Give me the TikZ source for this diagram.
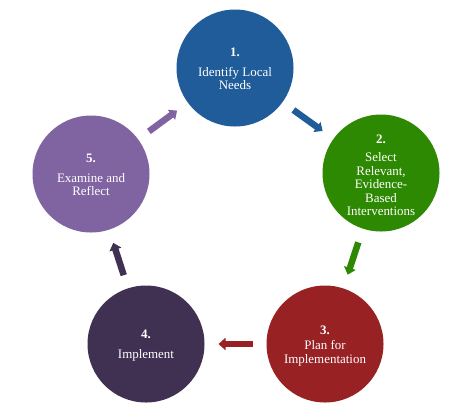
\documentclass[tikz,border=0pt]{standalone}
\usepackage{fontspec}
\setmainfont{Liberation Serif}
\usetikzlibrary{arrows.meta,calc}
\definecolor{cblue}{RGB}{31,92,153}
\definecolor{cgreen}{RGB}{46,137,2}
\definecolor{cred}{RGB}{152,33,35}
\definecolor{cdark}{RGB}{64,49,82}
\definecolor{cpurple}{RGB}{128,100,162}
\tikzset{
  circ/.style={circle, minimum size=117bp, inner sep=0pt, draw=none},
  lbl/.style={text=white, align=center, inner sep=0pt, font=\fontsize{13}{13.5}\selectfont},
  blockarrow/.style={line width=6.5bp, line cap=butt, -{Triangle[width=12bp,length=7bp]}},
}
\begin{document}
\begin{tikzpicture}[x=1bp,y=-1bp]
\useasboundingbox (0,0) rectangle (471,411);
\node[circ, fill=cblue]   (n1) at (235,68)  {};
\node[circ, fill=cgreen]  (n2) at (381,173) {};
\node[circ, fill=cred]    (n3) at (325,344) {};
\node[circ, fill=cdark]   (n4) at (146,344) {};
\node[circ, fill=cpurple] (n5) at (91,174)  {};

\node[lbl] (t1) at ($(n1)+(0,1)$) {\textbf{1.}\\[6bp]Identify Local\\Needs};
\node[lbl] (t2) at ($(n2)+(0,2.5)$) {\textbf{2.}\\[4.5bp]Select\\Relevant,\\Evidence-\\Based\\Interventions};
\node[lbl] (t3) at ($(n3)+(0,2)$) {\textbf{3.}\\[1.5bp]Plan for\\Implementation};
\node[lbl] (t4) at ($(n4)+(0,1.5)$) {\textbf{4.}\\[6bp]Implement};
\node[lbl] (t5) at ($(n5)+(0,1)$) {\textbf{5.}\\[6bp]Examine and\\Reflect};

\coordinate (m12) at ($(n1)!0.5!(n2)$);
\coordinate (m23) at ($(n2)!0.5!(n3)$);
\coordinate (m34) at ($(n3)!0.5!(n4)$);
\coordinate (m45) at ($(n4)!0.5!(n5)$);
\coordinate (m51) at ($(n5)!0.5!(n1)$);

\draw[blockarrow, cblue]   ($(m12)!18bp!(n1)$) -- ($(m12)!18bp!(n2)$);
\draw[blockarrow, cgreen]  ($(m23)!17bp!(n2)$) -- ($(m23)!17bp!(n3)$);
\draw[blockarrow, cred]    ($(m34)!17bp!(n3)$) -- ($(m34)!17bp!(n4)$);
\draw[blockarrow, cdark]   ($(m45)!17bp!(n4)$) -- ($(m45)!17bp!(n5)$);
\draw[blockarrow, cpurple] ($(m51)!17.5bp!(n5)$) -- ($(m51)!17.5bp!(n1)$);
\end{tikzpicture}
\end{document}
